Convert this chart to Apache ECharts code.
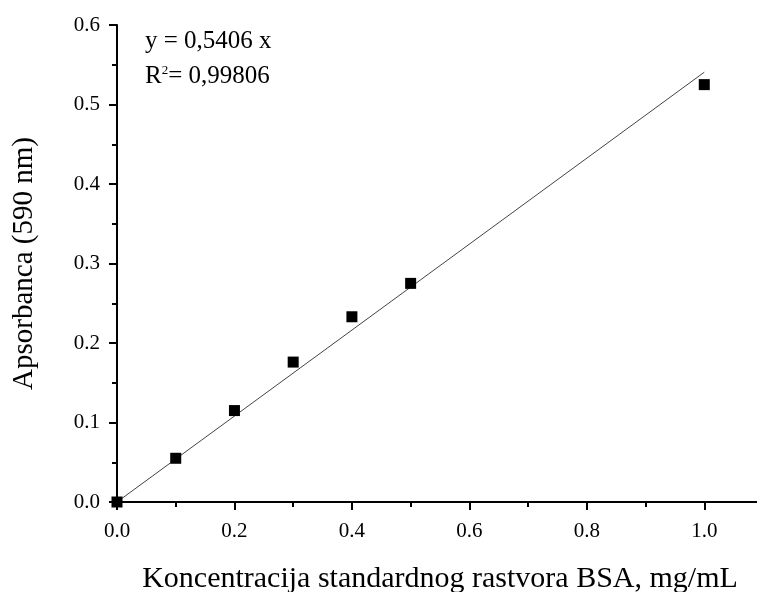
<!DOCTYPE html>
<html>
<head>
    <meta charset="utf-8">
    <title>Apsorbanca BSA</title>
    <script src="https://cdn.jsdelivr.net/npm/echarts@6/dist/echarts.min.js"></script>
</head>
<body style="margin: 0; padding: 0; background: #fff;">
<div id="main" style="width: 757px; height: 592px;"></div>
<script type="text/javascript">
    // izmjerene tacke
    var koncentracija = [0, 0.1, 0.2, 0.3, 0.4, 0.5, 1.0];
    var apsorbanca = [0.0, 0.055, 0.115, 0.176, 0.233, 0.275, 0.525];
    // linearni fit
    var nagib = 0.5406;
    var r2 = '0,99806';
    var fitX = [0, 1.0];

    var tacke = koncentracija.map(function (x, i) { return [x, apsorbanca[i]]; });
    var fit = fitX.map(function (x) { return [x, nagib * x]; });

    var font = 'Liberation Serif';
    var myChart = echarts.init(document.getElementById('main'));

    var option = {
        backgroundColor: '#fff',
        animation: false,
        grid: { left: 117, right: -6, top: 25, bottom: 90, containLabel: false, outerBoundsMode: 'none' },
        xAxis: {
            type: 'value',
            min: 0, max: 1.1, interval: 0.2,
            name: 'Koncentracija standardnog rastvora BSA, mg/mL',
            nameLocation: 'middle', nameGap: 62,
            nameTextStyle: { fontFamily: font, fontSize: 30, color: '#000' },
            axisLine: { lineStyle: { color: '#000', width: 2 } },
            axisTick: { inside: false, length: 8, lineStyle: { color: '#000', width: 2 } },
            minorTick: { show: true, splitNumber: 2, length: 5, lineStyle: { color: '#000', width: 2 } },
            axisLabel: {
                fontFamily: font, fontSize: 21, color: '#000', margin: 19,
                showMaxLabel: false,
                formatter: function (v) { return v.toFixed(1); }
            },
            splitLine: { show: false }
        },
        yAxis: {
            type: 'value',
            min: 0, max: 0.6, interval: 0.1,
            name: 'Apsorbanca (590 nm)',
            nameLocation: 'middle', nameGap: 78,
            nameTextStyle: { fontFamily: font, fontSize: 29, color: '#000' },
            axisLine: { show: true, lineStyle: { color: '#000', width: 2 } },
            axisTick: { inside: false, length: 8, lineStyle: { color: '#000', width: 2 } },
            minorTick: { show: true, splitNumber: 2, length: 5, lineStyle: { color: '#000', width: 2 } },
            axisLabel: {
                fontFamily: font, fontSize: 21, color: '#000', margin: 17,
                formatter: function (v) { return v.toFixed(1); }
            },
            splitLine: { show: false }
        },
        graphic: [{
            type: 'text', left: 145, top: 29,
            style: { text: 'y = 0,5406 x', font: '25px "Liberation Serif"', fill: '#000' }
        }, {
            type: 'text', left: 145, top: 64,
            style: {
                text: '{b|R}{s|2}{b|= ' + r2 + '}',
                rich: {
                    b: { fontFamily: font, fontSize: 25, fill: '#000', color: '#000' },
                    s: { fontFamily: font, fontSize: 13, fill: '#000', color: '#000', verticalAlign: 'top', padding: [0, 0, 12, 0] }
                }
            }
        }],
        series: [{
            name: 'fit',
            type: 'line',
            data: fit,
            symbol: 'none',
            lineStyle: { color: '#444', width: 1 },
            z: 1
        }, {
            name: 'tacke',
            type: 'scatter',
            data: tacke,
            symbol: 'rect',
            symbolSize: 11,
            itemStyle: { color: '#000', opacity: 1 },
            z: 2
        }]
    };

    myChart.setOption(option);
</script>
</body>
</html>
